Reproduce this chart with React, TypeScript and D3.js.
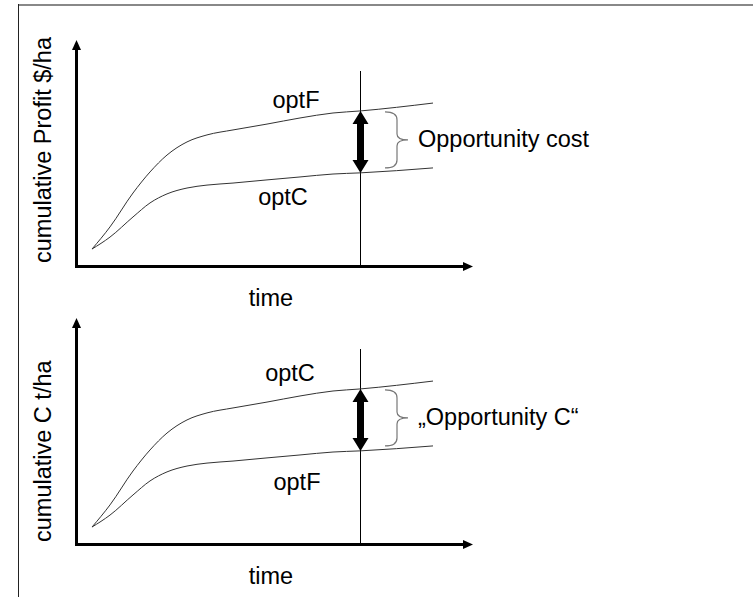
import React from "react";
import * as d3 from "d3";

// ---- data (arbitrary units) ----
const time = [4, 8.5, 14.25, 18.5, 22.75, 27.75, 32.75, 39.25, 47.75, 56, 64.25, 71, 89.25];
const profitOptF = [7.5, 17.3, 32.3, 41.6, 49.1, 54.9, 58.0, 60.2, 62.8, 65.5, 67.7, 68.6, 72.1];
const profitOptC = [7.5, 12.8, 21.7, 27.9, 31.9, 34.5, 35.8, 36.7, 38.1, 39.4, 40.7, 41.2, 43.4];
const carbonOptC = [7.5, 17.3, 32.3, 41.6, 49.1, 54.9, 58.0, 60.2, 62.8, 65.5, 67.7, 68.6, 72.1];
const carbonOptF = [7.5, 12.8, 21.7, 27.9, 31.9, 34.5, 35.8, 36.7, 38.1, 39.4, 40.7, 41.2, 43.4];
const markerTime = 71;

const W = 753;
const H = 597;
const FONT = "'Liberation Sans', Arial, sans-serif";
const FS = 23.5;

type PanelProps = {
  offsetY: number;
  upper: number[];
  lower: number[];
  yLabel: string;
  upperLabel: string;
  lowerLabel: string;
  upperLabelPos: [number, number];
  lowerLabelPos: [number, number];
  note: string;
  yLabelEnd: number;
};

function Panel(p: PanelProps) {
  const x = d3.scaleLinear().domain([0, 100]).range([76, 476]);
  const y = d3.scaleLinear().domain([0, 100]).range([266, 40]);
  const line = d3
    .line<number>()
    .x((_, i) => x(time[i]))
    .y((v) => y(v))
    .curve(d3.curveMonotoneX);

  const xm = x(markerTime);
  const iM = time.indexOf(markerTime);
  const yTop = y(p.upper[iM]);
  const yBot = y(p.lower[iM]);

  // double arrow
  const hw = 8, sw = 3.5, hl = 13;
  const ax = xm + 0.5;
  const arrow = [
    [ax, yTop],
    [ax + hw, yTop + hl],
    [ax + sw, yTop + hl],
    [ax + sw, yBot - hl],
    [ax + hw, yBot - hl],
    [ax, yBot],
    [ax - hw, yBot - hl],
    [ax - sw, yBot - hl],
    [ax - sw, yTop + hl],
    [ax - hw, yTop + hl],
  ];
  const arrowPath = "M" + arrow.map((a) => a.join(",")).join("L") + "Z";

  // brace
  const bx0 = 385, bx1 = 397, bt = 408;
  const by0 = yTop + 1, by1 = yBot - 5;
  const bm = (by0 + by1) / 2;
  const brace = `M${bx0},${by0} Q${bx1},${by0} ${bx1},${by0 + 8} L${bx1},${bm - 6} Q${bx1},${bm} ${bt},${bm} Q${bx1},${bm} ${bx1},${bm + 6} L${bx1},${by1 - 8} Q${bx1},${by1} ${bx0},${by1}`;

  const axisY = y(0);
  return (
    <g transform={`translate(0,${p.offsetY})`}>
      {/* axes */}
      <line x1={76.5} y1={axisY + 1.5} x2={76.5} y2={48} stroke="#000" strokeWidth={3} />
      <path d={`M76.5,40 L81,50 L72,50 Z`} fill="#000" />
      <line x1={75} y1={axisY + 0.5} x2={464} y2={axisY + 0.5} stroke="#000" strokeWidth={3} />
      <path d={`M473,${axisY + 0.5} L463,${axisY - 4} L463,${axisY + 5} Z`} fill="#000" />
      {/* vertical marker */}
      <line x1={xm + 0.5} y1={71} x2={xm + 0.5} y2={axisY} stroke="#000" strokeWidth={1} />
      {/* curves */}
      <path d={line(p.upper) || ""} fill="none" stroke="#333" strokeWidth={1} />
      <path d={line(p.lower) || ""} fill="none" stroke="#333" strokeWidth={1} />
      {/* double arrow */}
      <path d={arrowPath} fill="#000" />
      {/* brace */}
      <path d={brace} fill="none" stroke="#777" strokeWidth={1.2} />
      {/* texts */}
      <text x={p.upperLabelPos[0]} y={p.upperLabelPos[1]} textAnchor="middle" fontFamily={FONT} fontSize={FS}>{p.upperLabel}</text>
      <text x={p.lowerLabelPos[0]} y={p.lowerLabelPos[1]} textAnchor="middle" fontFamily={FONT} fontSize={FS}>{p.lowerLabel}</text>
      <text x={418} y={147} fontFamily={FONT} fontSize={FS}>{p.note}</text>
      <text x={271} y={306} textAnchor="middle" fontFamily={FONT} fontSize={FS}>time</text>
      <text transform={`translate(51,${p.yLabelEnd}) rotate(-90)`} textAnchor="start" fontFamily={FONT} fontSize={FS}>{p.yLabel}</text>
    </g>
  );
}

export default function App() {
  return (
    <svg width={W} height={H} style={{ position: "absolute", left: 0, top: 0, background: "#fff" }}>
      <rect x={0} y={0} width={W} height={H} fill="#fff" />
      <line x1={18} y1={5} x2={W} y2={5} stroke="#888" strokeWidth={2} />
      <line x1={18.5} y1={4} x2={18.5} y2={H} stroke="#222" strokeWidth={1} />
      <Panel
        offsetY={0}
        upper={profitOptF}
        lower={profitOptC}
        yLabel="cumulative Profit $/ha"
        upperLabel="optF"
        lowerLabel="optC"
        upperLabelPos={[296, 108]}
        lowerLabelPos={[283, 205]}
        note="Opportunity cost"
        yLabelEnd={263}
      />
      <Panel
        offsetY={278}
        upper={carbonOptC}
        lower={carbonOptF}
        yLabel="cumulative C t/ha"
        upperLabel="optC"
        lowerLabel="optF"
        upperLabelPos={[290, 103]}
        lowerLabelPos={[297, 212]}
        note={"\u201EOpportunity C\u201C"}
        yLabelEnd={264}
      />
    </svg>
  );
}
